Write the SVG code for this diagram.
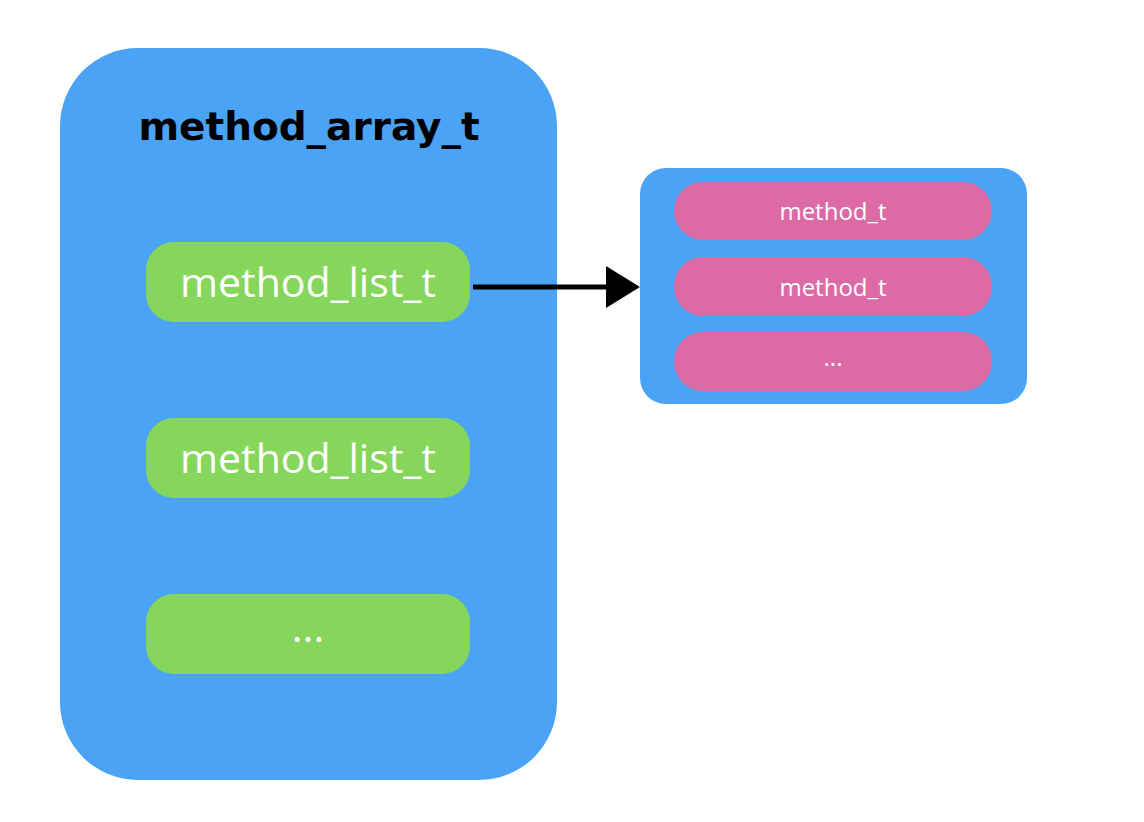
<svg xmlns="http://www.w3.org/2000/svg" width="1144" height="822" viewBox="0 0 1144 822">
<style>
.blue{fill:#4BA3F5}
.green{fill:#85D65B}
.pink{fill:#DC6BA5}
.t{font-family:"Open Sans","DejaVu Sans",sans-serif;fill:#fff;text-anchor:middle}
.lt{font-size:41px}
.mt{font-size:24px}
.title{font-family:"DejaVu Sans","Open Sans",sans-serif;font-weight:bold;font-size:39px;fill:#000;text-anchor:middle}
</style>
<rect width="1144" height="822" fill="#fff"/>
<g id="method_array_t">
<rect class="blue" x="60" y="48" width="497" height="732" rx="78" ry="78"/>
<text class="title" x="309" y="140">method_array_t</text>
</g>
<g id="list1">
<rect class="green" x="146" y="242" width="324" height="80" rx="28" ry="28"/>
<text class="t lt" x="308" y="297">method_list_t</text>
</g>
<g id="list2">
<rect class="green" x="146" y="418" width="324" height="80" rx="28" ry="28"/>
<text class="t lt" x="308" y="473">method_list_t</text>
</g>
<g id="list3">
<rect class="green" x="146" y="594" width="324" height="80" rx="28" ry="28"/>
<text class="t lt" x="308" y="642">...</text>
</g>
<g id="methods">
<rect class="blue" x="640" y="168" width="387" height="236" rx="26" ry="26"/>
</g>
<g id="m1">
<rect class="pink" x="674" y="182" width="318" height="58" rx="29" ry="29"/>
<text class="t mt" x="833" y="220">method_t</text>
</g>
<g id="m2">
<rect class="pink" x="674" y="257" width="318" height="59" rx="29" ry="29"/>
<text class="t mt" x="833" y="296">method_t</text>
</g>
<g id="m3">
<rect class="pink" x="674" y="332" width="318" height="59" rx="29" ry="29"/>
<text class="t mt" x="833" y="366">...</text>
</g>
<g id="connectors">
<line x1="473" y1="287" x2="608" y2="287" stroke="#000" stroke-width="5"/>
<path d="M606,266 L640,287 L606,308 Z" fill="#000"/>
</g>
</svg>
